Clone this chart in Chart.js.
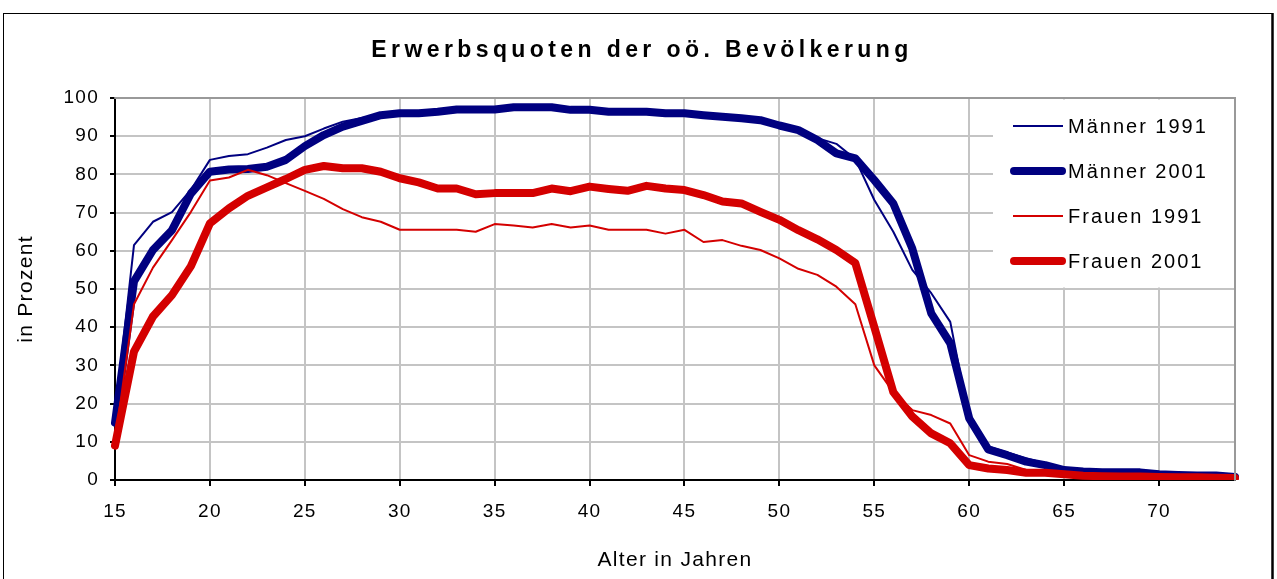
<!DOCTYPE html>
<html>
<head>
<meta charset="utf-8">
<script src="https://cdn.jsdelivr.net/npm/chart.js@4"></script>
<style>
  html, body { margin: 0; padding: 0; background: #fff; }
  #wrap { width: 1277px; height: 579px; }
</style>
</head>
<body>
<div id="wrap"><canvas id="chart" width="1277" height="579"></canvas></div>
<script>
// ages 15..74
const ages = [];
for (let a = 15; a <= 74; a++) ages.push(String(a));

const maenner1991 = [17, 61.5, 67.6, 70.1, 76, 83.8, 84.8, 85.3, 87, 89,
  90, 92, 93.8, 94.8, 95.8, 96.2, 96.2, 96.6, 97, 97.2,
  97.2, 97.6, 97.7, 97.6, 97, 97, 96.6, 96.5, 96.5, 96.1,
  96, 95.6, 95.2, 94.7, 94.3, 93, 91.8, 89.5, 88, 84,
  73.3, 65, 55, 48.9, 41.4, 16, 8.8, 7.2, 5.7, 4.3,
  2.8, 2.5, 2.1, 2.1, 2, 1.6, 1.5, 1.5, 1.4, 1.0];
const maenner2001 = [15, 52, 60.2, 65.4, 75, 80.7, 81.3, 81.4, 82, 83.8,
  87.4, 90.3, 92.5, 94, 95.5, 96, 96, 96.4, 97, 97,
  97, 97.6, 97.6, 97.6, 96.9, 96.9, 96.4, 96.4, 96.4, 96,
  96, 95.5, 95.1, 94.7, 94.2, 92.8, 91.6, 89, 85.5, 84.2,
  78.5, 72.4, 60.6, 43.6, 35.8, 16.1, 8, 6.5, 4.8, 3.9,
  2.6, 2.2, 2, 2, 2, 1.5, 1.3, 1.2, 1.2, 0.8];
const frauen1991 = [10, 46, 55.6, 62.8, 70.2, 78.4, 79.2, 81.2, 79.8, 77.7,
  75.7, 73.6, 70.9, 68.8, 67.6, 65.5, 65.5, 65.5, 65.5, 65,
  67, 66.6, 66.1, 67, 66.1, 66.6, 65.5, 65.5, 65.5, 64.5,
  65.5, 62.3, 62.8, 61.3, 60.2, 58, 55.3, 53.7, 50.6, 46,
  30, 23, 18.3, 17, 14.8, 6.5, 4.8, 4.2, 2.6, 2.4,
  1.6, 1.3, 1.1, 1, 1, 0.9, 0.8, 0.8, 0.7, 0.6];
const frauen2001 = [9, 33.6, 42.8, 48.4, 56, 67.2, 71.1, 74.4, 76.6, 78.8,
  81.2, 82.2, 81.6, 81.6, 80.7, 79, 77.9, 76.3, 76.3, 74.8,
  75.1, 75.1, 75.1, 76.3, 75.6, 76.8, 76.2, 75.7, 77, 76.3,
  75.9, 74.6, 72.9, 72.4, 70.2, 68.1, 65.4, 63, 60.2, 56.8,
  40, 23, 16.6, 12.2, 9.6, 3.9, 3, 2.6, 1.9, 1.9,
  1.5, 1.1, 1, 0.9, 0.9, 0.8, 0.7, 0.7, 0.6, 0.5];

const titleText = 'Erwerbsquoten der oö. Bevölkerung';
const xTitle = 'Alter in Jahren';
const yTitle = 'in Prozent';

const NAVY = '#000080';
const RED = '#d40000';
const FONT = '"Liberation Sans", Arial, sans-serif';

// frame, title, legend and letter spacing for axis texts
const framePlugin = {
  id: 'frame',
  beforeDraw(chart) {
    const ctx = chart.ctx;
    ctx.save();
    ctx.fillStyle = '#fff';
    ctx.fillRect(0, 0, chart.width, chart.height);
    ctx.strokeStyle = '#000';
    ctx.lineWidth = 1;
    ctx.strokeRect(3.5, 13.5, 1269, 620);
    ctx.lineWidth = 2.5;
    ctx.beginPath();
    ctx.moveTo(1272.5, 13);
    ctx.lineTo(1272.5, 579);
    ctx.stroke();
    ctx.restore();
    ctx.letterSpacing = '1.3px';
  },
  afterDraw(chart) {
    const ctx = chart.ctx;
    const area = chart.chartArea;
    ctx.save();
    // title
    ctx.letterSpacing = '4.4px';
    ctx.font = 'bold 23px ' + FONT;
    ctx.fillStyle = '#000';
    ctx.textAlign = 'center';
    ctx.textBaseline = 'middle';
    ctx.fillText(titleText, 642, 51);

    // legend box inside the plot area
    ctx.fillStyle = '#fff';
    ctx.fillRect(993, area.top + 1.5, area.right - 993 - 1, 188);
    ctx.font = '20px ' + FONT;
    ctx.letterSpacing = '2px';
    ctx.textAlign = 'left';
    chart.data.datasets.forEach((ds, i) => {
      const y = 126 + i * 45;
      const thick = ds.borderWidth > 4;
      ctx.strokeStyle = ds.borderColor;
      ctx.lineWidth = ds.borderWidth;
      ctx.lineCap = thick ? 'round' : 'butt';
      ctx.beginPath();
      ctx.moveTo(thick ? 1014 : 1013, y);
      ctx.lineTo(thick ? 1062 : 1063, y);
      ctx.stroke();
      ctx.fillStyle = '#000';
      ctx.fillText(ds.label, 1068, y + 1);
    });
    // plot border top/right
    ctx.strokeStyle = '#999';
    ctx.lineWidth = 2;
    ctx.beginPath();
    ctx.moveTo(area.left, area.top);
    ctx.lineTo(area.right, area.top);
    ctx.lineTo(area.right, area.bottom);
    ctx.stroke();
    ctx.restore();
  }
};

new Chart(document.getElementById('chart'), {
  type: 'line',
  data: {
    labels: ages,
    datasets: [
      { label: 'Männer 1991', data: maenner1991, borderColor: NAVY, borderWidth: 2, order: 4 },
      { label: 'Männer 2001', data: maenner2001, borderColor: NAVY, borderWidth: 8, order: 3 },
      { label: 'Frauen 1991', data: frauen1991, borderColor: RED, borderWidth: 2, order: 2 },
      { label: 'Frauen 2001', data: frauen2001, borderColor: RED, borderWidth: 8, order: 1 },
    ],
  },
  options: {
    responsive: false,
    animation: false,
    layout: { padding: { left: 0, top: 98, right: 42, bottom: 0 } },
    elements: {
      point: { radius: 0 },
      line: { tension: 0, borderJoinStyle: 'round', borderCapStyle: 'round', fill: false },
    },
    plugins: {
      legend: { display: false },
      title: { display: false },
      tooltip: { enabled: false },
    },
    scales: {
      x: {
        type: 'category',
        offset: false,
        afterFit(s) { s.height = 99; },
        grid: {
          color: (c) => (c.index % 5 === 0 ? '#c4c4c4' : 'transparent'),
          tickColor: (c) => (c.index % 5 === 0 ? '#000' : 'transparent'),
          lineWidth: 2,
          tickLength: 6,
        },
        border: { color: '#000', width: 2 },
        ticks: {
          autoSkip: false,
          maxRotation: 0,
          padding: 14,
          color: '#000',
          font: { family: FONT, size: 19 },
          callback(v, i) { return i % 5 === 0 ? ages[i] : ''; },
        },
        title: {
          display: true,
          text: xTitle,
          color: '#000',
          font: { family: FONT, size: 21 },
          padding: { top: 0, bottom: 6 },
        },
      },
      y: {
        min: 0,
        max: 100,
        afterFit(s) { s.width = 115; },
        grid: {
          color: '#c4c4c4',
          tickColor: '#000',
          lineWidth: 2,
          tickLength: 5,
        },
        border: { color: '#000', width: 2 },
        ticks: {
          stepSize: 10,
          padding: 11,
          color: '#000',
          font: { family: FONT, size: 19 },
        },
        title: {
          display: true,
          text: yTitle,
          color: '#000',
          font: { family: FONT, size: 21 },
          padding: { top: 14, bottom: 0 },
        },
      },
    },
  },
  plugins: [framePlugin],
});
</script>
</body>
</html>
